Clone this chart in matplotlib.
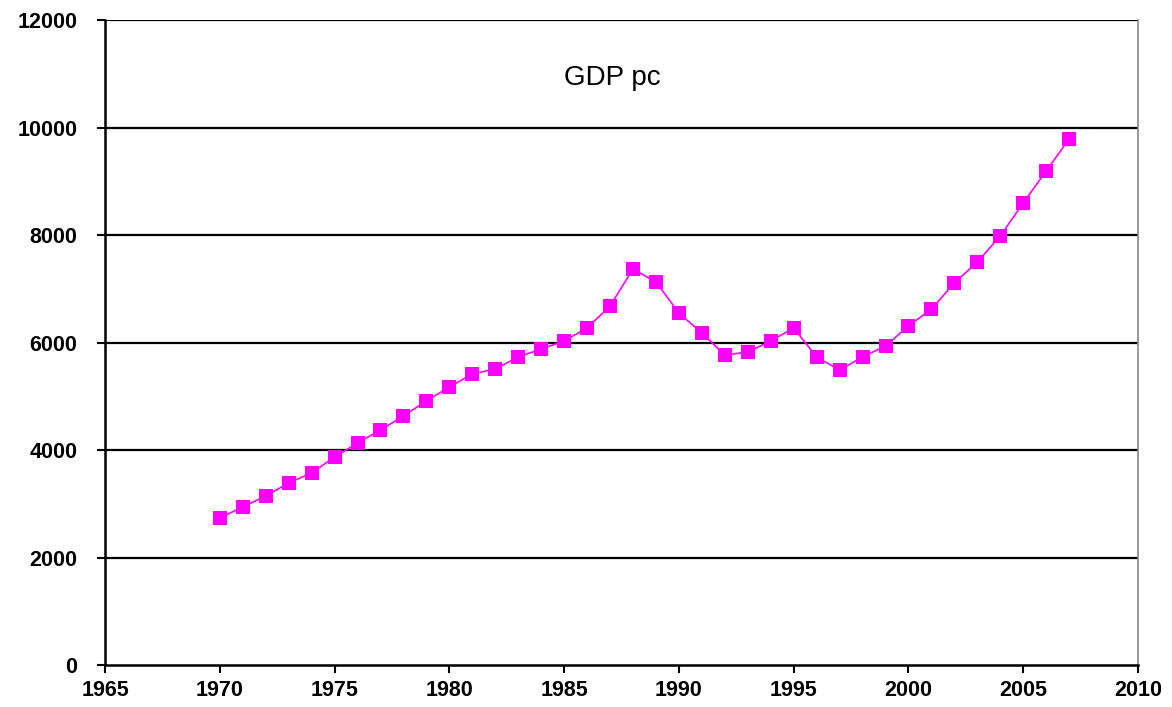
import matplotlib
matplotlib.use("Agg")
import matplotlib.pyplot as plt

years = list(range(1970, 2008))
gdp_pc = [2735, 2940, 3144, 3386, 3572, 3870, 4130, 4372, 4633, 4912,
          5172, 5414, 5507, 5730, 5879, 6028, 6270, 6679, 7367, 7126,
          6549, 6177, 5767, 5823, 6028, 6270, 5730, 5488, 5730, 5935,
          6307, 6623, 7107, 7498, 7981, 8595, 9191, 9786]
x_ticks = list(range(1965, 2011, 5))
y_ticks = list(range(0, 12001, 2000))

plt.rcParams['font.family'] = ['Liberation Sans', 'DejaVu Sans']

fig = plt.figure(figsize=(11.72, 7.07), dpi=100)
ax = fig.add_axes([0.0896, 0.0594, 0.8814, 0.9123])

# horizontal gridlines
for y in y_ticks[1:]:
    ax.axhline(y, color='black', lw=1.6, zorder=1)

ax.plot(years, gdp_pc, color='#ff00ff', lw=1.2, marker='s', markersize=10.5,
        markeredgewidth=0, zorder=3)

ax.set_xlim(1965, 2010)
ax.set_ylim(0, 12000)
ax.set_xticks(x_ticks)
ax.set_yticks(y_ticks)
ax.tick_params(axis='both', direction='out', length=6, width=1.5,
               labelsize=15.5)
for lbl in ax.get_xticklabels() + ax.get_yticklabels():
    lbl.set_fontweight('bold')
ax.tick_params(axis='y', pad=14)
ax.tick_params(axis='x', pad=5)

ax.spines['left'].set_linewidth(1.8)
ax.spines['bottom'].set_linewidth(1.8)
ax.spines['top'].set_visible(False)
ax.spines['right'].set_color('#888888')
ax.spines['right'].set_linewidth(1.2)

ax.text(1987.1, 10920, 'GDP pc', fontsize=20, ha='center', va='center')

fig.savefig('out.png', dpi=100)
